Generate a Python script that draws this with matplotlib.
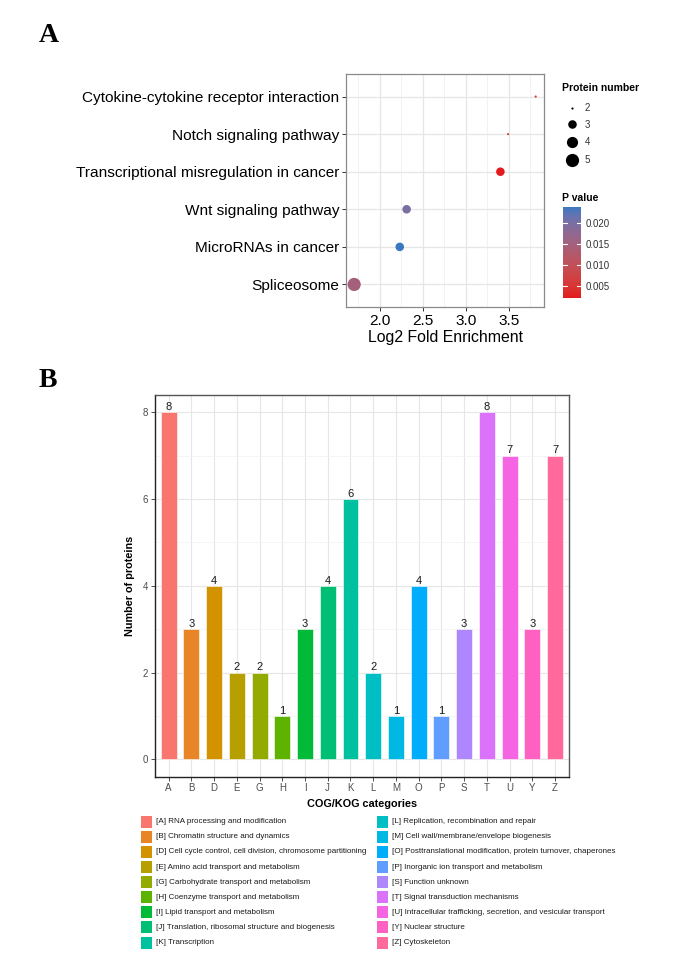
import numpy as np
import matplotlib
matplotlib.use("Agg")
import matplotlib.pyplot as plt
from matplotlib.colors import ListedColormap, Normalize, to_rgb
from matplotlib.patches import Rectangle
import matplotlib.colorbar as mcolorbar

# ---------------- data: panel A (KEGG enrichment bubble chart) ----------------
pathways = [
    "Cytokine-cytokine receptor interaction",
    "Notch signaling pathway",
    "Transcriptional misregulation in cancer",
    "Wnt signaling pathway",
    "MicroRNAs in cancer",
    "Spliceosome",
]
log2_fold_enrichment = [3.81, 3.49, 3.40, 2.31, 2.23, 1.70]
protein_number = [2, 2, 3, 3, 3, 5]
p_value = [0.0050, 0.0068, 0.00214, 0.0198, 0.0238, 0.0148]
x_ticks_a = [2.0, 2.5, 3.0, 3.5]
size_legend_values = [2, 3, 4, 5]
pvalue_ticks = [0.005, 0.010, 0.015, 0.020]

# ---------------- data: panel B (COG/KOG bar chart) ----------------
cog_codes = ["A", "B", "D", "E", "G", "H", "I", "J", "K",
             "L", "M", "O", "P", "S", "T", "U", "Y", "Z"]
cog_counts = [8, 3, 4, 2, 2, 1, 3, 4, 6, 2, 1, 4, 1, 3, 8, 7, 3, 7]
cog_descriptions = [
    "[A] RNA processing and modification",
    "[B] Chromatin structure and dynamics",
    "[D] Cell cycle control, cell division, chromosome partitioning",
    "[E] Amino acid transport and metabolism",
    "[G] Carbohydrate transport and metabolism",
    "[H] Coenzyme transport and metabolism",
    "[I] Lipid transport and metabolism",
    "[J] Translation, ribosomal structure and biogenesis",
    "[K] Transcription",
    "[L] Replication, recombination and repair",
    "[M] Cell wall/membrane/envelope biogenesis",
    "[O] Posttranslational modification, protein turnover, chaperones",
    "[P] Inorganic ion transport and metabolism",
    "[S] Function unknown",
    "[T] Signal transduction mechanisms",
    "[U] Intracellular trafficking, secretion, and vesicular transport",
    "[Y] Nuclear structure",
    "[Z] Cytoskeleton",
]
y_ticks_b = [0, 2, 4, 6, 8]

# ---------------- styles ----------------
cog_colors = ["#F8766D", "#E88526", "#D39200", "#B79F00", "#93AA00", "#5EB300",
              "#00BA38", "#00BF74", "#00C19F", "#00BFC4", "#00B9E3", "#00ADFA",
              "#619CFF", "#AE87FF", "#DB72FB", "#F564E3", "#FF61C3", "#FF699C"]
low_color, high_color = "#E41A1C", "#3A78C0"

SANS = "Liberation Sans"
plt.rcParams["font.family"] = [SANS, "DejaVu Sans"]
SERIF = ["Liberation Serif", "DejaVu Serif"]

W, H = 685, 980
DPI = 100
fig = plt.figure(figsize=(W / DPI, H / DPI), dpi=DPI)
renderer = fig.canvas.get_renderer()


def fit_size(text, target_px, base=10.0, **kw):
    t = fig.text(0, 0, text, fontsize=base, **kw)
    w = t.get_window_extent(renderer).width
    t.remove()
    return base * target_px / w


def rect(l, t, r, b):
    return [l / W, 1 - b / H, (r - l) / W, (b - t) / H]


# ---- CIELAB gradient (like ggplot's scale_colour_gradient) ----
M = np.array([[0.4124564, 0.3575761, 0.1804375],
              [0.2126729, 0.7151522, 0.0721750],
              [0.0193339, 0.1191920, 0.9503041]])
WHITE = np.array([0.95047, 1.0, 1.08883])


def to_lab(rgb):
    c = np.asarray(rgb, float)
    lin = np.where(c <= 0.04045, c / 12.92, ((c + 0.055) / 1.055) ** 2.4)
    xyz = M @ lin / WHITE
    f = np.where(xyz > 0.008856, np.cbrt(xyz), 7.787 * xyz + 16 / 116)
    return np.array([116 * f[1] - 16, 500 * (f[0] - f[1]), 200 * (f[1] - f[2])])


def from_lab(lab):
    L, a, b = lab
    fy = (L + 16) / 116
    f = np.array([fy + a / 500, fy, fy - b / 200])
    xyz = np.where(f ** 3 > 0.008856, f ** 3, (f - 16 / 116) / 7.787) * WHITE
    lin = np.clip(np.linalg.inv(M) @ xyz, 0, 1)
    c = np.where(lin <= 0.0031308, 12.92 * lin, 1.055 * lin ** (1 / 2.4) - 0.055)
    return np.clip(c, 0, 1)


lab0, lab1 = to_lab(to_rgb(low_color)), to_lab(to_rgb(high_color))
cmap = ListedColormap([from_lab(lab0 + t * (lab1 - lab0)) for t in np.linspace(0, 1, 256)])
norm = Normalize(vmin=min(p_value), vmax=max(p_value))

vmin_n, vmax_n = min(protein_number), max(protein_number)


def marker_area(v):
    # ggplot scale_size (area palette, range 1..6) -> diameter in pixels -> points^2
    size = 1 + 5 * np.sqrt((np.asarray(v, float) - vmin_n) / (vmax_n - vmin_n))
    d_px = 2.2 * size
    return (d_px * 72 / DPI) ** 2


# font sizes calibrated to the text widths of the reference
fs_a = fit_size(max(pathways, key=len), 265)
fs_leg = fit_size(cog_descriptions[11], 225)
fs_lab_b = fit_size("Number of proteins", 100, fontweight="bold")

# ================= Panel A =================
axA = fig.add_axes(rect(346, 74, 544, 307))
n = len(pathways)
ypos = np.arange(n)[::-1] + 1
axA.scatter(log2_fold_enrichment, ypos, s=marker_area(protein_number),
            c=p_value, cmap=cmap, norm=norm, linewidths=0, zorder=3)
axA.set_xlim(1.605, 3.907)
axA.set_ylim(0.4, n + 0.6)
axA.set_yticks(ypos)
axA.set_yticklabels(pathways)
axA.set_xticks(x_ticks_a)
axA.set_xticklabels([f"{t:.1f}" for t in x_ticks_a])
axA.set_xticks([1.75, 2.25, 2.75, 3.25, 3.75], minor=True)
axA.grid(True, which="major", color="#E6E6E6", lw=0.9, zorder=0)
axA.grid(True, which="minor", axis="x", color="#F0F0F0", lw=0.6, zorder=0)
axA.set_axisbelow(True)
for s in axA.spines.values():
    s.set_color("#8A8A8A")
    s.set_linewidth(0.9)
axA.tick_params(axis="both", which="major", labelsize=fs_a, colors="#333333",
                labelcolor="black", length=2.75, width=0.7, pad=2)
axA.tick_params(axis="both", which="minor", length=0)
axA.set_xlabel("Log2 Fold Enrichment", fontsize=fs_a * 1.03, labelpad=1.5)

# colour bar
cax = fig.add_axes(rect(563, 207, 581, 298))
cb = mcolorbar.ColorbarBase(cax, cmap=cmap, norm=norm, orientation="vertical")
cb.outline.set_visible(False)
cb.set_ticks(pvalue_ticks)
cb.set_ticklabels([f"{t:.3f}" for t in pvalue_ticks])
cax.tick_params(length=0, pad=3.5, labelsize=7, labelcolor="#333333")
for t in pvalue_ticks:
    cax.plot([0, 0.22], [t, t], color="white", lw=0.8)
    cax.plot([0.78, 1], [t, t], color="white", lw=0.8)

# ================= Panel B =================
axB = fig.add_axes(rect(155, 395, 568.7, 776.7))
xb = np.arange(len(cog_codes))
axB.bar(xb, cog_counts, width=0.7, color=cog_colors,
        edgecolor="white", linewidth=0.4, zorder=3)
for xi, v in zip(xb, cog_counts):
    axB.annotate(str(v), (xi, v), xytext=(0, 0.2), textcoords="offset points",
                 ha="center", va="bottom", fontsize=8, color="#1A1A1A", zorder=4)
axB.set_xlim(-0.6, len(cog_codes) - 0.4)
axB.set_ylim(-0.4, 8.4)
axB.set_xticks(xb)
axB.set_xticklabels(cog_codes)
axB.set_yticks(y_ticks_b)
axB.set_yticks([1, 3, 5, 7], minor=True)
axB.grid(True, which="major", color="#E6E6E6", lw=0.8, zorder=0)
axB.grid(True, which="minor", axis="y", color="#F2F2F2", lw=0.5, zorder=0)
axB.set_axisbelow(True)
for s in axB.spines.values():
    s.set_color("#555555")
    s.set_linewidth(1.0)
axB.spines["left"].set_color("#222222")
axB.spines["bottom"].set_color("#222222")
axB.tick_params(axis="both", which="major", labelsize=7, labelcolor="#4D4D4D",
                color="#333333", length=2.75, width=0.6, pad=2)
axB.tick_params(axis="both", which="minor", length=0)
axB.set_ylabel("Number of proteins", fontsize=fs_lab_b, fontweight="bold")
axB.yaxis.set_label_coords(-0.048, 0.5)
axB.set_xlabel("COG/KOG categories", fontsize=fs_lab_b, fontweight="bold")
axB.xaxis.set_label_coords(0.5, -0.058)

# ================= overlay: panel letters and legends =================
ov = fig.add_axes([0, 0, 1, 1])
ov.set_xlim(0, W)
ov.set_ylim(H, 0)
ov.axis("off")

ov.text(49, 35, "A", family=SERIF, fontweight="bold", fontsize=20, ha="center", va="center")
ov.text(47.5, 380, "B", family=SERIF, fontweight="bold", fontsize=20, ha="center", va="center")

# size legend (panel A)
ov.text(562, 88, "Protein number", fontsize=7.5, fontweight="bold", ha="left", va="center")
for v, yy in zip(size_legend_values, [107.7, 124.5, 142.3, 160.0]):
    ov.scatter([571.7], [yy], s=marker_area(v), color="black", linewidths=0)
    ov.text(585, yy, str(v), fontsize=7, color="#333333", ha="left", va="center")
ov.text(562, 198, "P value", fontsize=7.5, fontweight="bold", ha="left", va="center")

# COG legend (panel B)
per_col = int(np.ceil(len(cog_codes) / 2))
for i, (desc, col) in enumerate(zip(cog_descriptions, cog_colors)):
    c, r = divmod(i, per_col)
    kx = 141 if c == 0 else 376.7
    yy = 821.7 + 15.1 * r
    ov.add_patch(Rectangle((kx, yy - 6), 11, 12, facecolor=col, edgecolor="none"))
    ov.text(kx + 15.5, yy, desc, fontsize=fs_leg, color="#1A1A1A", ha="left", va="center")

fig.savefig("out.png", dpi=DPI)
